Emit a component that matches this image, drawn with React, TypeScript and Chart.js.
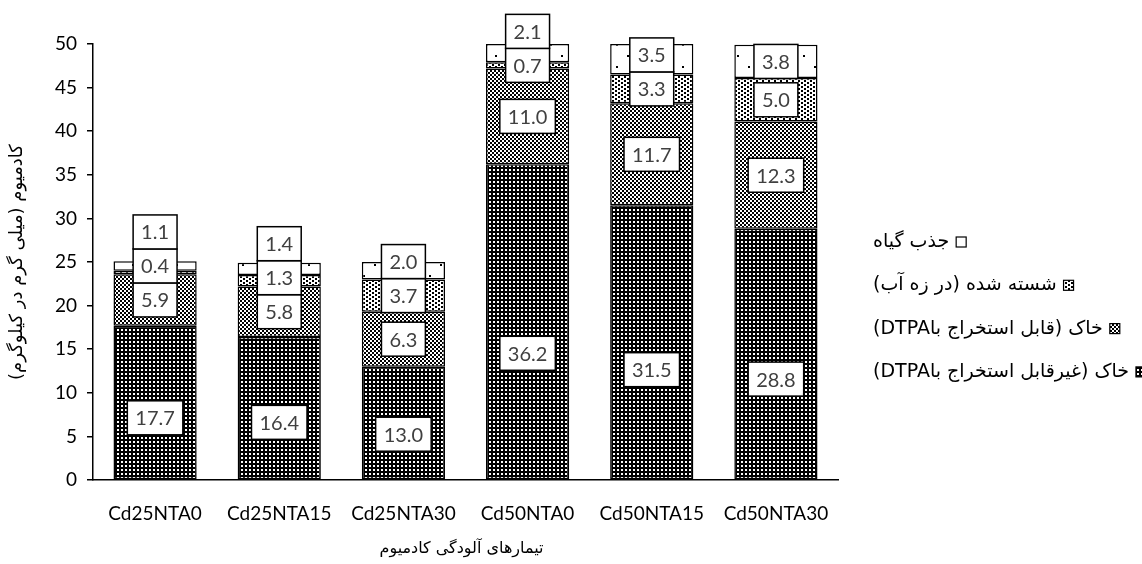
import React, { useEffect, useRef } from 'react';
import { Chart, registerables } from 'chart.js';

Chart.register(...registerables);

const categories = ['Cd25NTA0', 'Cd25NTA15', 'Cd25NTA30', 'Cd50NTA0', 'Cd50NTA15', 'Cd50NTA30'];
const nonExtractable = [17.7, 16.4, 13.0, 36.2, 31.5, 28.8];
const extractable = [5.9, 5.8, 6.3, 11.0, 11.7, 12.3];
const leached = [0.4, 1.3, 3.7, 0.7, 3.3, 5.0];
const plantUptake = [1.1, 1.4, 2.0, 2.1, 3.5, 3.8];
const seriesNames = [
  'خاک (غیرقابل استخراج باDTPA)',
  'خاک (قابل استخراج باDTPA)',
  'شسته شده (در زه آب)',
  'جذب گیاه',
];
const yTitle = 'کادمیوم (میلی گرم در کیلوگرم)';
const xTitle = 'تیمارهای آلودگی کادمیوم';

const FONT = "Lato, 'DejaVu Sans', sans-serif";
const AFONT = "'DejaVu Sans', Lato, sans-serif";

function makePattern(kind: string): CanvasPattern {
  const c = document.createElement('canvas');
  const g = c.getContext('2d')!;
  if (kind === 'grid') {
    c.width = 4; c.height = 4;
    g.fillStyle = '#000'; g.fillRect(0, 0, 4, 4);
    g.fillStyle = '#fff'; g.fillRect(1, 1, 2, 2);
  } else if (kind === 'checker') {
    c.width = 4; c.height = 4;
    g.fillStyle = '#fff'; g.fillRect(0, 0, 4, 4);
    g.fillStyle = '#000'; g.fillRect(0, 0, 2, 2); g.fillRect(2, 2, 2, 2);
  } else if (kind === 'dots') {
    c.width = 6; c.height = 4;
    g.fillStyle = '#fff'; g.fillRect(0, 0, 6, 4);
    g.fillStyle = '#000'; g.fillRect(0, 0, 2, 2); g.fillRect(3, 2, 2, 2);
  } else {
    c.width = 22; c.height = 22;
    g.fillStyle = '#fff'; g.fillRect(0, 0, 22, 22);
    g.fillStyle = '#000'; g.fillRect(0, 0, 2, 2); g.fillRect(11, 11, 2, 2);
  }
  const tmp = document.createElement('canvas').getContext('2d')!;
  return tmp.createPattern(c, 'repeat')!;
}

export default function App() {
  const ref = useRef<HTMLCanvasElement>(null);
  useEffect(() => {
    document.body.style.margin = '0';
    const canvas = ref.current!;
    const patterns = ['grid', 'checker', 'dots', 'sparse'].map(makePattern);
    const values = [nonExtractable, extractable, leached, plantUptake];

    const overlay = {
      id: 'overlay',
      afterDatasetsDraw(chart: any) {
        const ctx = chart.ctx as CanvasRenderingContext2D;
        ctx.save();
        ctx.font = `20px ${FONT}`;
        ctx.textAlign = 'center';
        ctx.textBaseline = 'middle';
        const H = 34;
        for (let i = 0; i < categories.length; i++) {
          let prevTop = Infinity;
          for (let d = 0; d < values.length; d++) {
            const el = chart.getDatasetMeta(d).data[i];
            const top = el.y, base = el.base;
            let cy = d === 0 ? base - 0.4 * (base - top) : (top + base) / 2;
            if (cy + H / 2 > prevTop) cy = prevTop - H / 2;
            prevTop = cy - H / 2;
            const txt = values[d][i].toFixed(1);
            const w = ctx.measureText(txt).width + 16;
            ctx.fillStyle = '#fff';
            ctx.fillRect(el.x - w / 2, cy - H / 2, w, H);
            ctx.strokeStyle = '#000';
            ctx.lineWidth = 1.5;
            ctx.strokeRect(el.x - w / 2, cy - H / 2, w, H);
            ctx.fillStyle = '#404040';
            ctx.fillText(txt, el.x, cy + 1);
          }
        }
        ctx.restore();
      },
      afterDraw(chart: any) {
        const ctx = chart.ctx as CanvasRenderingContext2D;
        const area = chart.chartArea;
        ctx.save();
        ctx.fillStyle = '#000';
        ctx.textBaseline = 'middle';
        ctx.direction = 'rtl';
        // y title
        ctx.save();
        ctx.translate(17, (area.top + area.bottom) / 2);
        ctx.rotate(-Math.PI / 2);
        ctx.font = `18px ${AFONT}`;
        ctx.textAlign = 'center';
        ctx.fillText(yTitle, 0, 0);
        ctx.restore();
        // x title
        ctx.font = `16px ${AFONT}`;
        ctx.textAlign = 'center';
        ctx.fillText(xTitle, (area.left + area.right) / 2 - 4, 549);
        // legend
        const rows = [3, 2, 1, 0];
        const x0 = 873;
        rows.forEach((d, k) => {
          const cy = 242 + k * 43.3;
          ctx.font = `19px ${AFONT}`;
          ctx.fillStyle = '#000';
          ctx.textAlign = 'left';
          ctx.fillText(seriesNames[d], x0, cy);
          const tw = ctx.measureText(seriesNames[d]).width;
          const bx = x0 + tw + 7;
          ctx.fillStyle = patterns[d];
          ctx.fillRect(bx, cy - 5, 10, 10);
          ctx.strokeStyle = '#000';
          ctx.lineWidth = 1.2;
          ctx.strokeRect(bx, cy - 5, 10, 10);
        });
        ctx.restore();
      },
    };

    const chart = new Chart(canvas, {
      type: 'bar',
      data: {
        labels: categories,
        datasets: values.map((v, d) => ({
          label: seriesNames[d],
          data: v,
          backgroundColor: patterns[d],
          borderColor: '#000',
          borderWidth: 1.5,
          borderSkipped: false,
          barPercentage: 0.67,
          categoryPercentage: 1,
        })),
      },
      options: {
        responsive: false,
        animation: false,
        layout: { padding: { left: 0, right: 304, top: 44, bottom: 0 } },
        plugins: {
          legend: { display: false },
          tooltip: { enabled: false },
        },
        scales: {
          x: {
            stacked: true,
            grid: { display: false },
            border: { display: true, color: '#000', width: 1.5 },
            ticks: { color: '#000', font: { family: FONT, size: 19 }, padding: 14, maxRotation: 0 },
            afterFit: (s: any) => { s.height = 84; },
          },
          y: {
            stacked: true,
            min: 0,
            max: 50,
            ticks: { stepSize: 5, color: '#000', font: { family: FONT, size: 19 }, padding: 10 },
            grid: { drawOnChartArea: false, drawTicks: true, tickLength: 6, color: '#000', lineWidth: 1.5 },
            border: { display: true, color: '#000', width: 1.5 },
            afterFit: (s: any) => { s.width = 93; },
          },
        },
      },
      plugins: [overlay],
    } as any);
    return () => chart.destroy();
  }, []);
  return <canvas ref={ref} width={1142} height={564} style={{ display: 'block' }} />;
}
